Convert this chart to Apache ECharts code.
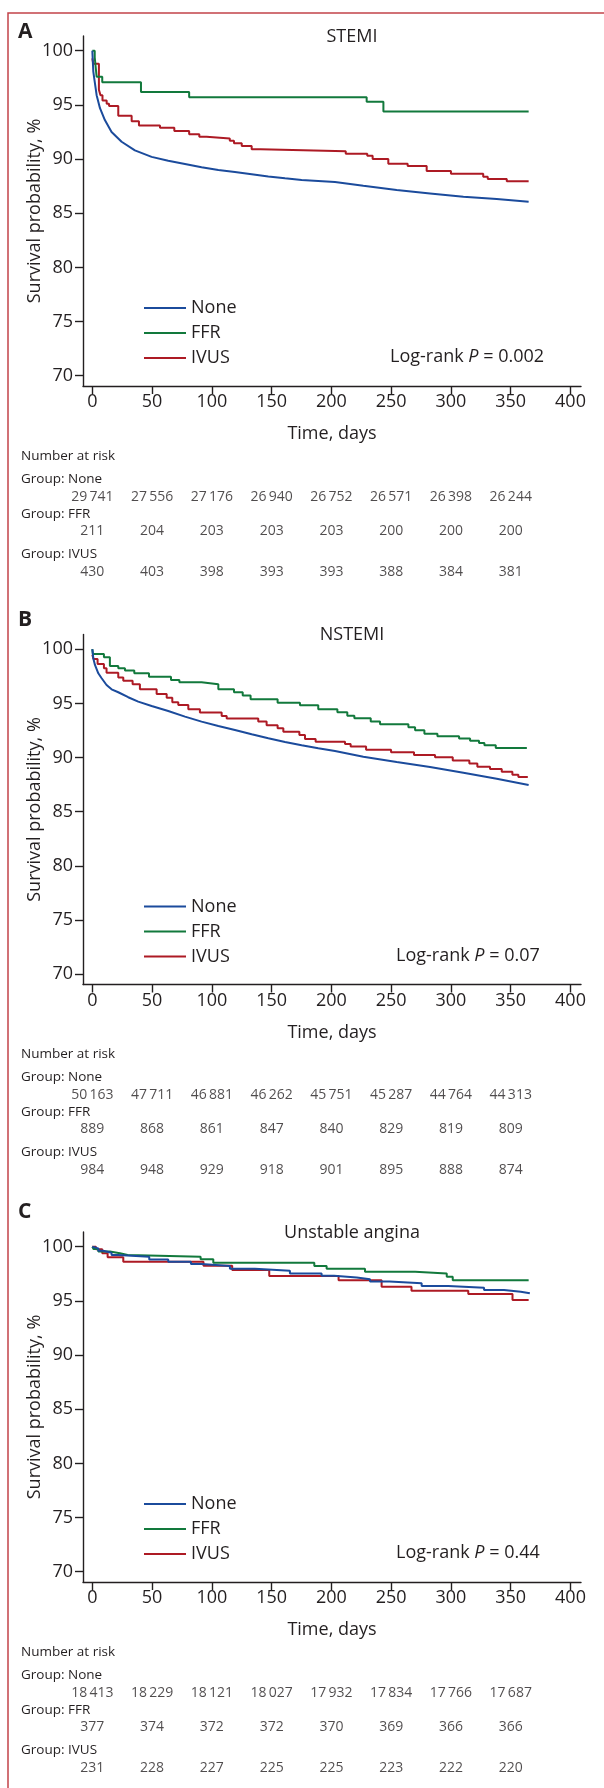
<!DOCTYPE html>
<html>
<head>
<meta charset="utf-8" />
<title>Survival probability by group</title>
<script src="https://cdn.jsdelivr.net/npm/echarts@6/dist/echarts.min.js"></script>
<style>
    html, body { margin: 0; padding: 0; background: #ffffff; }
    #main { width: 604px; height: 1788px; }
</style>
</head>
<body>
<div id="main"></div>
<script type="text/javascript">
// ---- values ----
var xTicks = [0, 50, 100, 150, 200, 250, 300, 350, 400];
var yTicks = [70, 75, 80, 85, 90, 95, 100];
var riskTimes = [0, 50, 100, 150, 200, 250, 300, 350];
var groups = ['None', 'FFR', 'IVUS'];

// STEMI  [day, survival %]
var stemiNone = [[0,100],[0.8,98.1],[1.6,97.45],[3.6,95.9],[6.4,94.7],[10.5,93.6],[16.1,92.5],[24.5,91.6],[35.6,90.8],[49.6,90.2],[63.5,89.85],[77.5,89.55],[91.4,89.25],[105.4,89.0],[119.3,88.8],[133.3,88.6],[147.2,88.4],[161.2,88.22],[175.1,88.06],[189,87.97],[203,87.88],[226.7,87.53],[254.6,87.14],[282.5,86.83],[310.4,86.52],[338.3,86.31],[365,86.06]];
var stemiFFR = [[0,100],[2,99.4],[3.6,97.6],[8.3,97.1],[40.7,96.2],[81,95.7],[229.5,95.3],[243.5,94.4],[365,94.4]];
var stemiIVUS = [[0,99.3],[0.8,98.8],[5.5,96.4],[6.8,95.9],[8.5,95.4],[12,95.1],[14,94.9],[21.7,94.0],[32.9,93.5],[39,93.1],[56.6,92.9],[68.6,92.6],[81,92.3],[89.5,92.06],[95.6,91.9],[115,91.7],[118.5,91.45],[125,91.2],[133.3,90.9],[140.8,90.72],[212,90.5],[230,90.3],[234.5,90.0],[247.6,89.57],[263.8,89.35],[279.7,88.9],[300,88.65],[327,88.37],[330.8,88.15],[346.7,87.94],[365,87.94]];

// NSTEMI
var nstemiNone = [[0,100],[0.8,99.17],[2.2,98.55],[5,97.78],[7.8,97.32],[11.9,96.7],[16.1,96.3],[21.7,96.03],[30,95.57],[38.4,95.16],[49.6,94.76],[63.5,94.3],[77.5,93.78],[91.4,93.32],[105.4,92.92],[119.3,92.55],[133.3,92.15],[147.2,91.78],[161.2,91.44],[175.1,91.13],[189,90.86],[203,90.61],[226.7,90.08],[254.6,89.59],[282.5,89.13],[310.4,88.6],[338.3,88.05],[365,87.47]];
var nstemiFFR = [[0,100],[0.5,99.57],[9.7,99.26],[14.7,98.46],[21.7,98.25],[27.3,98.03],[35.1,97.78],[47.4,97.47],[65.8,97.17],[72.8,96.95],[91.4,96.77],[105.4,96.3],[118.5,96.03],[125.8,95.72],[132.4,95.38],[155,95.07],[173.7,94.83],[189,94.46],[205,94.18],[213.3,93.87],[219.2,93.63],[232.9,93.32],[240.7,93.07],[264.4,92.8],[270,92.52],[277.8,92.2],[288.7,91.96],[306.8,91.75],[316,91.56],[323.5,91.35],[328,91.13],[337.5,90.89],[363.5,90.89]];
var nstemiIVUS = [[0,99.5],[1,99.1],[4.4,98.64],[9.7,98.24],[11.9,97.84],[21.7,97.38],[25.9,97.1],[33.7,96.77],[39.8,96.31],[53.8,95.87],[62.2,95.53],[66.9,95.1],[71.9,94.86],[80.3,94.46],[90,94.15],[108.2,93.84],[112.4,93.6],[138.8,93.32],[145.8,92.98],[155,92.7],[159.8,92.39],[173.2,92.09],[177.9,91.72],[186.8,91.47],[211.4,91.26],[216.1,91.01],[229,90.73],[249.9,90.49],[269.1,90.24],[286.7,90.03],[301.5,89.72],[315.4,89.44],[322.1,89.16],[332.7,88.95],[342.5,88.7],[351.4,88.42],[356.4,88.21],[364.3,88.21]];

// Unstable angina
var uaNone = [[0,100],[1,99.85],[5,99.63],[9.1,99.45],[16.1,99.23],[21.7,99.08],[47.6,98.83],[63.5,98.62],[82.5,98.4],[91.4,98.22],[115.1,97.97],[136,97.79],[165.3,97.54],[191.8,97.33],[202.2,97.17],[221.2,96.99],[232.3,96.8],[248.5,96.62],[275.5,96.37],[297.8,96.22],[327.7,96.0],[344.4,95.85],[358.4,95.7],[366,95.7]];
var uaFFR = [[0,100],[1,99.8],[5,99.55],[14.7,99.4],[23.1,99.23],[29.5,99.08],[90.6,98.84],[101.2,98.52],[185.7,98.22],[196,97.97],[228.1,97.69],[270,97.54],[296.5,97.23],[301.5,96.9],[365,96.9]];
var uaIVUS = [[0,100],[3,99.76],[8.3,99.39],[12.8,99.02],[25.9,98.62],[93,98.25],[117,97.85],[148,97.3],[206,96.9],[242,96.3],[267,95.94],[314.5,95.63],[351.5,95.08],[365,95.08]];

// number at risk
var stemiRiskNone = [29741, 27556, 27176, 26940, 26752, 26571, 26398, 26244];
var stemiRiskFFR = [211, 204, 203, 203, 203, 200, 200, 200];
var stemiRiskIVUS = [430, 403, 398, 393, 393, 388, 384, 381];
var nstemiRiskNone = [50163, 47711, 46881, 46262, 45751, 45287, 44764, 44313];
var nstemiRiskFFR = [889, 868, 861, 847, 840, 829, 819, 809];
var nstemiRiskIVUS = [984, 948, 929, 918, 901, 895, 888, 874];
var uaRiskNone = [18413, 18229, 18121, 18027, 17932, 17834, 17766, 17687];
var uaRiskFFR = [377, 374, 372, 372, 370, 369, 366, 366];
var uaRiskIVUS = [231, 228, 227, 225, 225, 223, 222, 220];

var panels = [
    { letter: 'A', title: 'STEMI', p: '0.002', lines: [stemiNone, stemiFFR, stemiIVUS], risk: [stemiRiskNone, stemiRiskFFR, stemiRiskIVUS] },
    { letter: 'B', title: 'NSTEMI', p: '0.07', lines: [nstemiNone, nstemiFFR, nstemiIVUS], risk: [nstemiRiskNone, nstemiRiskFFR, nstemiRiskIVUS] },
    { letter: 'C', title: 'Unstable angina', p: '0.44', lines: [uaNone, uaFFR, uaIVUS], risk: [uaRiskNone, uaRiskFFR, uaRiskIVUS] }
];

// ---- look ----
var FONT = '"Open Sans", "Noto Sans", sans-serif';
var INK = '#231f20';
var colors = ['#1b4b9c', '#12793c', '#ad1a24'];
var stepped = [[false, true, true], [false, true, true], [true, true, true]];
var offs = [0, 598.5, 1196];
var letterY = [32.5, 620.5, 1212.5];
var pX = [390, 396, 396];

function fmt(n) {
    return String(n).replace(/\B(?=(\d{3})+(?!\d))/g, '\u2009');
}

function text(x, y, str, size, extra) {
    var st = {
        text: str, fontFamily: FONT, fontSize: size, fill: INK,
        align: 'left', textAlign: 'left', verticalAlign: 'middle', textVerticalAlign: 'middle'
    };
    for (var k in extra) st[k] = extra[k];
    return { type: 'text', x: x, y: y, silent: true, style: st };
}

var grid = [], xAxis = [], yAxis = [], series = [], legend = [], graphic = [];

graphic.push({
    type: 'rect', silent: true,
    shape: { x: 8, y: 13, width: 700, height: 1800 },
    style: { fill: 'none', stroke: '#c24349', lineWidth: 1.5 }
});

panels.forEach(function (pn, i) {
    var o = offs[i];
    var gp = 2 * i, gr = 2 * i + 1;

    grid.push({ left: 83, width: 498, top: 36 + o, height: 350 });
    grid.push({ left: 83, width: 498, top: 478.25 + o, height: 112.5 });

    xAxis.push({
        type: 'value', gridIndex: gp, min: -7.8, max: 408.8,
        axisLine: { onZero: false, lineStyle: { color: INK, width: 1.4 } },
        axisTick: { customValues: xTicks, length: 8, lineStyle: { color: INK, width: 1.4 } },
        axisLabel: { customValues: xTicks, margin: 7, fontSize: 18, color: INK, fontFamily: FONT },
        splitLine: { show: false },
        name: 'Time, days', nameLocation: 'middle', nameGap: 39, nameMoveOverlap: false,
        nameTextStyle: { fontSize: 18, color: INK, fontFamily: FONT }
    });
    xAxis.push({ type: 'value', gridIndex: gr, min: -7.8, max: 408.8, show: false });

    yAxis.push({
        type: 'value', gridIndex: gp, min: 69.05, max: 101.36,
        axisLine: { show: true, onZero: false, lineStyle: { color: INK, width: 1.4 } },
        axisTick: { show: true, customValues: yTicks, length: 8, lineStyle: { color: INK, width: 1.4 } },
        axisLabel: { customValues: yTicks, margin: 10, fontSize: 18, color: INK, fontFamily: FONT },
        splitLine: { show: false },
        name: 'Survival probability, %', nameLocation: 'middle', nameGap: 39, nameMoveOverlap: false,
        nameTextStyle: { fontSize: 18, color: INK, fontFamily: FONT }
    });
    yAxis.push({ type: 'category', gridIndex: gr, data: groups, inverse: true, show: false });

    groups.forEach(function (g, j) {
        series.push({
            name: g, type: 'line', xAxisIndex: gp, yAxisIndex: gp,
            data: pn.lines[j], step: stepped[i][j] ? 'end' : false,
            symbol: 'none', silent: true, z: 3 - j,
            color: colors[j],
            lineStyle: { color: colors[j], width: 2 }
        });
        series.push({
            type: 'scatter', xAxisIndex: gr, yAxisIndex: gr, symbolSize: 0, silent: true,
            data: riskTimes.map(function (t, k) { return [t, g, pn.risk[j][k]]; }),
            label: {
                show: true, position: 'inside', offset: [0, j === 1 ? -3.5 : 0],
                fontSize: 14, fontFamily: FONT, color: INK,
                formatter: function (p) { return fmt(p.value[2]); }
            }
        });
    });

    legend.push({
        orient: 'vertical', left: 144, top: 299 + o, padding: 0,
        itemWidth: 42, itemHeight: 18, itemGap: 7, selectedMode: false,
        icon: 'path://M0,0H42V2H0Z',
        data: groups,
        textStyle: { fontSize: 18, color: INK, fontFamily: FONT, lineHeight: 18 }
    });

    graphic.push(text(18, letterY[i], pn.letter, 21, { fontWeight: 'bold' }));
    graphic.push(text(352, 36.5 + o, pn.title, 18, { align: 'center', textAlign: 'center' }));
    graphic.push(text(pX[i], 357 + o, '{a|Log-rank }{i|P}{a| = ' + pn.p + '}', 18, {
        rich: {
            a: { fontFamily: FONT, fontSize: 18, color: INK },
            i: { fontFamily: FONT, fontSize: 18, color: INK, fontStyle: 'italic' }
        }
    }));
    graphic.push(text(21, 456 + o, 'Number at risk', 13.5));
    graphic.push(text(21, 479 + o, 'Group: None', 13.5));
    graphic.push(text(21, 514 + o, 'Group: FFR', 13.5));
    graphic.push(text(21, 554 + o, 'Group: IVUS', 13.5));
});

var myChart = echarts.init(document.getElementById('main'), null, { renderer: 'canvas' });
myChart.setOption({
    animation: false,
    backgroundColor: '#ffffff',
    textStyle: { fontFamily: FONT },
    grid: grid,
    xAxis: xAxis,
    yAxis: yAxis,
    legend: legend,
    series: series,
    graphic: graphic
});
</script>
</body>
</html>
